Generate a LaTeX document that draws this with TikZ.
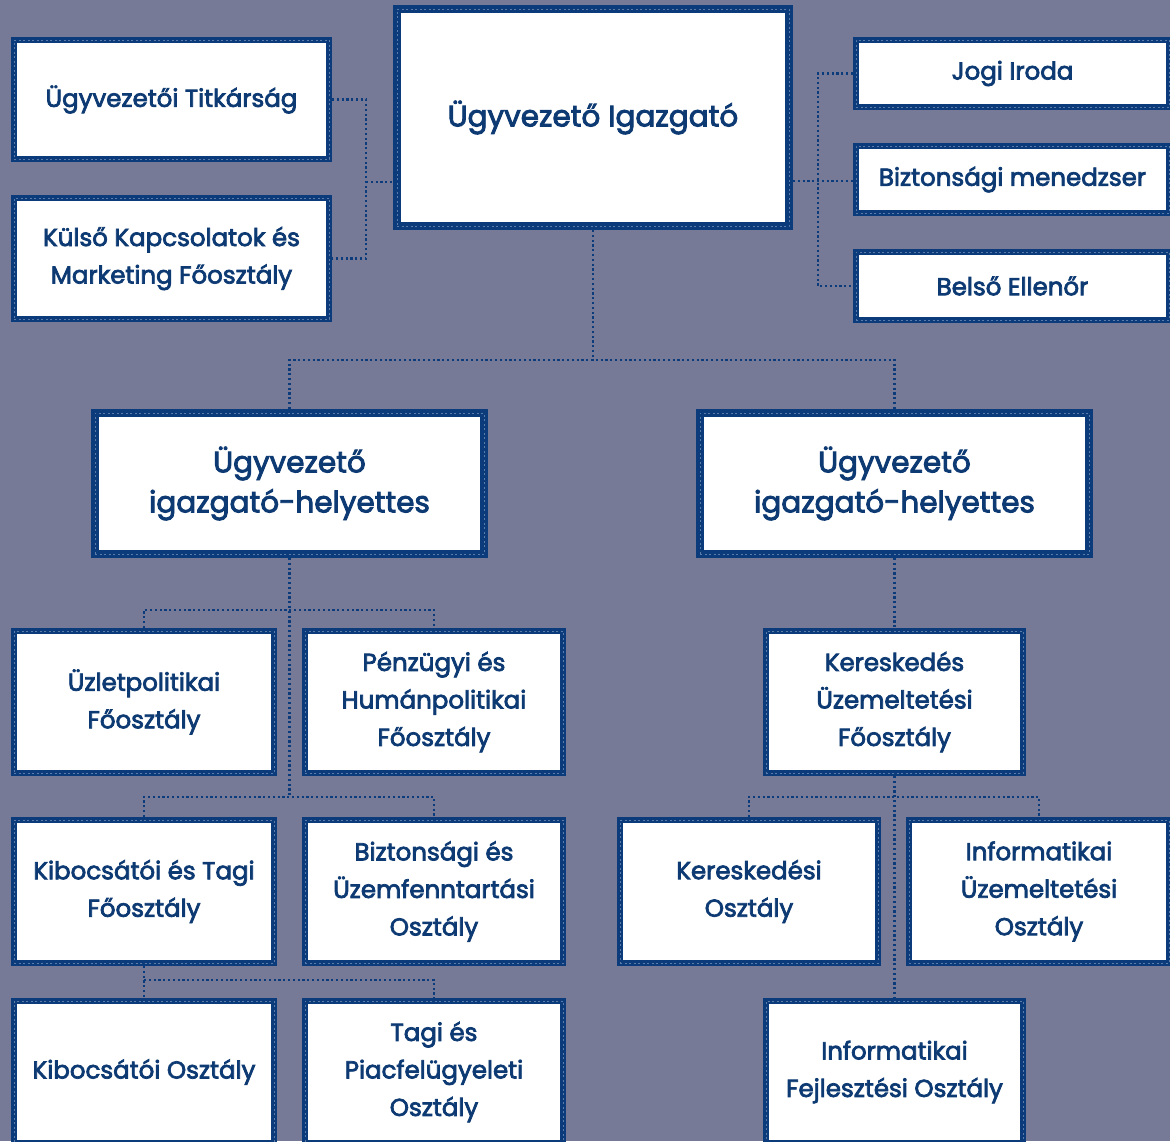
\documentclass[tikz,border=0pt]{standalone}
\usepackage{fontspec}
\setmainfont{Poppins}[FakeBold=3]
\definecolor{bg}{HTML}{767A96}
\definecolor{navy}{HTML}{0B3B7A}
\definecolor{txt}{HTML}{0D3A73}
\definecolor{tex}{HTML}{5C7BA8}
\tikzset{
  bx/.style={draw=navy, fill=white, line width=6pt, text=txt, align=center,
    inner sep=0pt, font=\fontsize{24.5}{37.5}\selectfont,
    postaction={draw=tex, line width=1pt, dash pattern=on 2pt off 2.5pt}},
  bigbx/.style={bx, line width=8pt, font=\fontsize{29.5}{40}\selectfont},
  conn/.style={draw=navy, line width=2.2pt, dash pattern=on 2.2pt off 2.6pt},
}
\begin{document}
\begin{tikzpicture}[x=1pt,y=-1pt]
\fill[bg] (0,0) rectangle (1170,1141);
\useasboundingbox (0,0) rectangle (1170,1141);
% top level
\node[bigbx, minimum width=392pt, minimum height=217pt] (ceo) at (593,117.5) {\raisebox{4pt}{Ügyvezető Igazgató}};
\node[bx, minimum width=315pt, minimum height=119pt] (titk) at (171.5,99.5) {Ügyvezetői Titkárság};
\node[bx, minimum width=315pt, minimum height=121pt] (kulso) at (171.5,258.5) {Külső Kapcsolatok és\\Marketing Főosztály};
\node[bx, minimum width=313pt, minimum height=67pt] (jogi) at (1012.5,73.5) {Jogi Iroda};
\node[bx, minimum width=313pt, minimum height=67pt] (bizt) at (1012.5,179.5) {Biztonsági menedzser};
\node[bx, minimum width=313pt, minimum height=68pt] (belso) at (1012.5,286) {Belső Ellenőr};
% deputies
\node[bigbx, minimum width=389pt, minimum height=141pt] (dih1) at (289.5,483.5) {Ügyvezető\\igazgató-helyettes};
\node[bigbx, minimum width=389pt, minimum height=141pt] (dih2) at (894.5,483.5) {Ügyvezető\\igazgató-helyettes};
% left branch
\node[bx, minimum width=260pt, minimum height=142pt] (uzlet) at (144,702) {Üzletpolitikai\\Főosztály};
\node[bx, minimum width=258pt, minimum height=142pt] (penz) at (434,702) {Pénzügyi és\\Humánpolitikai\\Főosztály};
\node[bx, minimum width=260pt, minimum height=143pt] (kibt) at (144,891.5) {Kibocsátói és Tagi\\Főosztály};
\node[bx, minimum width=258pt, minimum height=143pt] (bizt2) at (434,891.5) {Biztonsági és\\Üzemfenntartási\\Osztály};
\node[bx, minimum width=260pt, minimum height=142pt] (kibo) at (144,1072) {Kibocsátói Osztály};
\node[bx, minimum width=258pt, minimum height=142pt] (tagi) at (434,1072) {Tagi és\\Piacfelügyeleti\\Osztály};
% right branch
\node[bx, minimum width=257pt, minimum height=142pt] (kersf) at (894.5,702) {Kereskedés\\Üzemeltetési\\Főosztály};
\node[bx, minimum width=258pt, minimum height=143pt] (kero) at (749,891.5) {Kereskedési\\Osztály};
\node[bx, minimum width=260pt, minimum height=143pt] (infu) at (1039,891.5) {Informatikai\\Üzemeltetési\\Osztály};
\node[bx, minimum width=257pt, minimum height=142pt] (inff) at (894.5,1072) {Informatikai\\Fejlesztési Osztály};
% connectors
\coordinate (lj) at (366,182);
\coordinate (rj) at (818,181);
\coordinate (m1) at (593,360);
\coordinate (t1) at (289.5,610);
\coordinate (t2) at (289.5,797);
\coordinate (t3) at (144,980);
\coordinate (t4) at (894.5,797);
\draw[conn] (titk.east) -| (lj) |- (kulso.east);
\draw[conn] (lj) -- (ceo.west |- lj);
\draw[conn] (ceo.east |- rj) -- (bizt.west |- rj);
\draw[conn] (jogi.west) -| (rj) |- (belso.west);
\draw[conn] (ceo.south) -- (m1);
\draw[conn] (dih1.north) |- (m1) -| (dih2.north);
\draw[conn] (dih1.south) -- (t2);
\draw[conn] (uzlet.north) |- (t1) -| (penz.north);
\draw[conn] (kibt.north) |- (t2) -| (bizt2.north);
\draw[conn] (kibt.south) -- (kibo.north);
\draw[conn] (t3) -| (tagi.north);
\draw[conn] (dih2.south) -- (kersf.north);
\draw[conn] (kersf.south) -- (inff.north);
\draw[conn] (kero.north) |- (t4) -| (infu.north);
\end{tikzpicture}
\end{document}
